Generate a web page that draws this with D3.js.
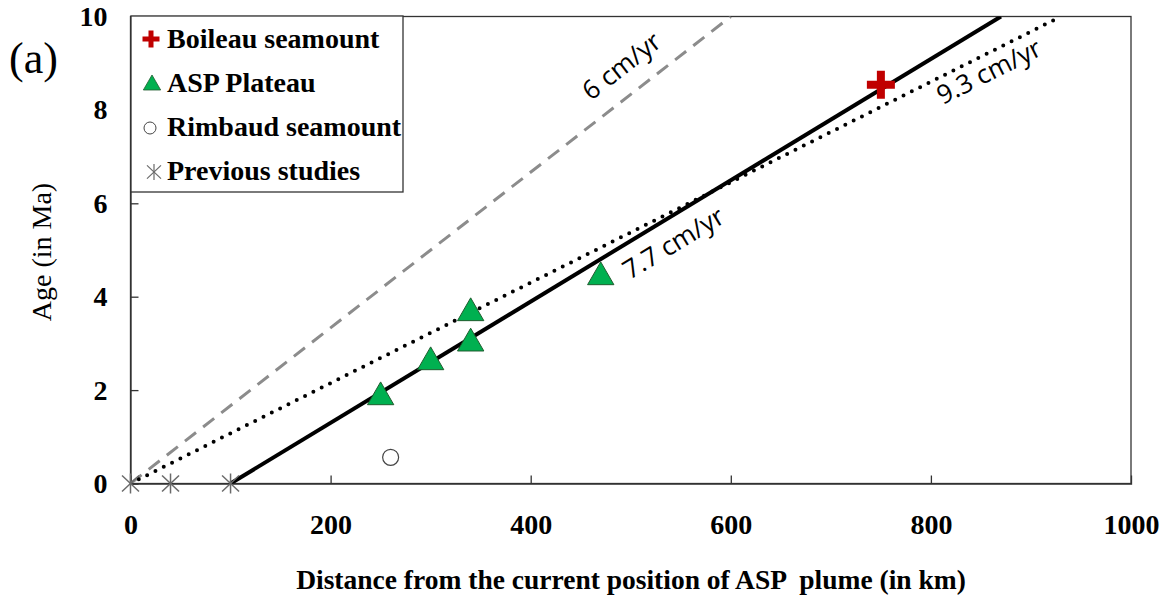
<!DOCTYPE html>
<html><head><meta charset="utf-8">
<script src="https://cdn.jsdelivr.net/npm/d3@7"></script>
<style>body{margin:0;background:#fff}svg{display:block}</style>
</head><body>
<svg id="c" width="1173" height="603"></svg>
<script>
// ---- data ----
const boileau = [{x: 750, y: 8.54}];
const aspPlateau = [{x: 250, y: 1.85}, {x: 300, y: 2.6}, {x: 340, y: 3.0}, {x: 340, y: 3.65}, {x: 470, y: 4.42}];
const rimbaud = [{x: 260, y: 0.56}];
const previous = [{x: 0, y: 0}, {x: 40, y: 0}, {x: 100, y: 0}];
// rate lines: start distance (km) at age 0, rate in cm/yr (=10 km/Myr)
const rateLines = [
  {name: "6 cm/yr", x0: 0, rate: 6, style: "dashed", labelX: 472, offset: -19},
  {name: "9.3 cm/yr", x0: 0, rate: 9.3, style: "dotted", labelX: 800, offset: 26},
  {name: "7.7 cm/yr", x0: 100, rate: 7.7, style: "solid", labelX: 482, offset: 33}
];
const xTicks = [0, 200, 400, 600, 800, 1000];
const yTicks = [0, 2, 4, 6, 8, 10];
const legendItems = ["Boileau seamount", "ASP Plateau", "Rimbaud seamount", "Previous studies"];

// ---- layout ----
const svg = d3.select("#c");
const L = 130.5, R = 1131, T = 16.5, B = 483.5;
const x = d3.scaleLinear().domain([0, 1000]).range([L, R]);
const y = d3.scaleLinear().domain([0, 10]).range([B, T]);
const serif = "'Liberation Serif', 'Times New Roman', serif";
const sans = "'Open Sans', 'Noto Sans', sans-serif";

svg.append("clipPath").attr("id", "clip").append("rect")
  .attr("x", L).attr("y", T).attr("width", R - L).attr("height", B - T);

// frame
svg.append("rect").attr("x", L).attr("y", T).attr("width", R - L).attr("height", B - T)
  .attr("fill", "none").attr("stroke", "#333").attr("stroke-width", 1.3);

// axes
const xAxis = svg.append("g").attr("transform", `translate(0,${B})`)
  .call(d3.axisBottom(x).tickValues(xTicks).tickSize(-8).tickPadding(31).tickFormat(d3.format("d")));
const yAxis = svg.append("g").attr("transform", `translate(${L},0)`)
  .call(d3.axisLeft(y).tickValues(yTicks).tickSize(-8).tickPadding(23).tickFormat(d3.format("d")));
[xAxis, yAxis].forEach(a => {
  a.select(".domain").attr("stroke", "#333").attr("stroke-width", 1.3);
  a.selectAll(".tick line").attr("stroke", "#333").attr("stroke-width", 1.3);
  a.selectAll(".tick text").attr("font-family", serif).attr("font-weight", "bold")
    .attr("font-size", 28).attr("fill", "#000");
});
xAxis.selectAll(".tick").filter(d => d === 0 || d === 1000).select("line").remove();
yAxis.selectAll(".tick").filter(d => d === 0 || d === 10).select("line").remove();

// axis titles
svg.append("text").attr("x", 631).attr("y", 589).attr("text-anchor", "middle")
  .attr("font-family", serif).attr("font-weight", "bold").attr("font-size", 27.5)
  .attr("xml:space", "preserve")
  .text("Distance from the current position of ASP  plume (in km)");
svg.append("text").attr("transform", `translate(51,252) rotate(-90)`)
  .attr("text-anchor", "middle").attr("font-family", serif)
  .attr("font-size", 28).text("Age (in Ma)");
svg.append("text").attr("x", 9).attr("y", 73).attr("font-family", serif)
  .attr("font-size", 44).text("(a)");

// rate lines
const plot = svg.append("g").attr("clip-path", "url(#clip)");
const lineStyle = {
  dashed: {stroke: "#8c8c8c", w: 3, dash: "14 9", cap: "butt"},
  dotted: {stroke: "#000", w: 4, dash: "0 9.3", cap: "round"},
  solid: {stroke: "#000", w: 4, dash: null, cap: "butt"}
};
const ageAt = (l, d) => (d - l.x0) / (l.rate * 10);
rateLines.forEach(l => {
  const s = lineStyle[l.style];
  const x1 = l.x0 + 10 * l.rate * 10;
  plot.append("line").attr("x1", x(l.x0)).attr("y1", y(0)).attr("x2", x(x1)).attr("y2", y(10))
    .attr("stroke", s.stroke).attr("stroke-width", s.w).attr("stroke-linecap", s.cap)
    .attr("stroke-dasharray", s.dash);
});
// line labels
rateLines.forEach(l => {
  const px = x(l.labelX), py = y(ageAt(l, l.labelX));
  const ang = Math.atan2(y(ageAt(l, l.labelX + 100)) - py, x(l.labelX + 100) - px) * 180 / Math.PI;
  svg.append("text")
    .attr("transform", `translate(${px},${py}) rotate(${ang}) translate(0,${l.offset})`)
    .attr("font-family", sans).attr("font-size", 26).attr("fill", "#000")
    .attr("text-anchor", "start").text(l.name);
});

// markers
const tri = d3.symbol().type(d3.symbolTriangle).size(300);
function asterisk(g, cx, cy, rx, ry, sw) {
  [[0, -ry, 0, ry], [-rx, -rx * 0.95, rx, rx * 0.95], [-rx, rx * 0.95, rx, -rx * 0.95]].forEach(c => {
    g.append("line").attr("x1", cx + c[0]).attr("y1", cy + c[1]).attr("x2", cx + c[2]).attr("y2", cy + c[3])
      .attr("stroke", "#6a6a6a").attr("stroke-width", sw);
  });
}
function cross(g, cx, cy, h, t) {
  g.append("path").attr("d", `M${cx - h},${cy - t / 2}h${2 * h}v${t}h${-2 * h}z M${cx - t / 2},${cy - h}h${t}v${2 * h}h${-t}z`)
    .attr("fill", "#c00000");
}
const mk = svg.append("g");
previous.forEach(d => asterisk(mk, x(d.x), y(d.y), 8.5, 10, 1.5));
rimbaud.forEach(d => mk.append("circle").attr("cx", x(d.x)).attr("cy", y(d.y)).attr("r", 8)
  .attr("fill", "#fff").attr("stroke", "#444").attr("stroke-width", 1.2));
aspPlateau.forEach(d => mk.append("path").attr("d", tri)
  .attr("transform", `translate(${x(d.x)},${y(d.y)})`)
  .attr("fill", "#00b050").attr("stroke", "#1f5c2e").attr("stroke-width", 1));
boileau.forEach(d => cross(mk, x(d.x), y(d.y), 14, 8));

// legend
const lg = svg.append("g");
lg.append("rect").attr("x", 131).attr("y", 16).attr("width", 272).attr("height", 176)
  .attr("fill", "#fff").attr("stroke", "#333").attr("stroke-width", 1.3);
const ly = [40, 84, 128, 172];
legendItems.forEach((t, i) => {
  lg.append("text").attr("x", 167).attr("y", ly[i] + 8).attr("font-family", serif)
    .attr("font-weight", "bold").attr("font-size", 28).attr("fill", "#000").text(t);
});
cross(lg, 151, ly[0] - 1, 8.5, 5);
lg.append("path").attr("d", d3.symbol().type(d3.symbolTriangle).size(130)).attr("transform", `translate(152,${ly[1] + 1})`)
  .attr("fill", "#00b050").attr("stroke", "#1f5c2e").attr("stroke-width", 0.8);
lg.append("circle").attr("cx", 150).attr("cy", ly[2]).attr("r", 6).attr("fill", "#fff").attr("stroke", "#444").attr("stroke-width", 1);
asterisk(lg, 154, ly[3], 7, 8, 1.2);
</script>
</body></html>
